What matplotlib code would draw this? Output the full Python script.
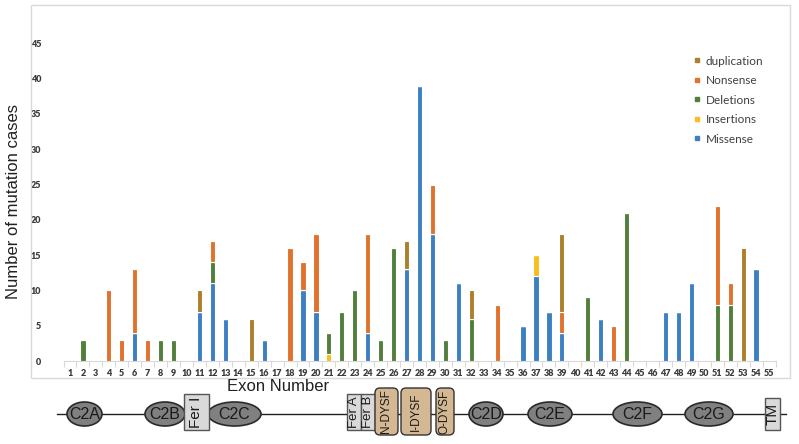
import matplotlib
matplotlib.use("Agg")
import matplotlib.pyplot as plt
from matplotlib.patches import Ellipse, Rectangle, FancyBboxPatch
from matplotlib.lines import Line2D
import numpy as np

exons = list(range(1, 56))
missense = [0,0,0,0,0,4,0,0,0,0, 7,11,6,0,0,3,0,0,10,7, 0,0,0,4,0,0,13,39,18,0,
            11,0,0,0,0,5,12,7,4,0, 0,6,0,0,0,0,7,7,11,0, 0,0,0,13,0]
insertions = [0]*55
insertions[20] = 1
insertions[36] = 3
deletions = [0]*55
for e, v in {2:3, 8:3, 9:3, 12:3, 21:3, 22:7, 23:10, 25:3, 26:16, 30:3, 32:6,
             41:9, 44:21, 51:8, 52:8}.items():
    deletions[e-1] = v
nonsense = [0]*55
for e, v in {4:10, 5:3, 6:9, 7:3, 12:3, 18:16, 19:4, 20:11, 24:14, 29:7, 34:8,
             39:3, 43:5, 51:14, 52:3}.items():
    nonsense[e-1] = v
duplication = [0]*55
for e, v in {11:3, 15:6, 27:4, 32:4, 39:11, 53:16}.items():
    duplication[e-1] = v

series_names = ["Missense", "Insertions", "Deletions", "Nonsense", "duplication"]
series_vals = [missense, insertions, deletions, nonsense, duplication]
colors = {"Missense": "#3d80c2", "Insertions": "#fbbd1c", "Deletions": "#527e3b",
          "Nonsense": "#e0722e", "duplication": "#ab7f2b"}
yticks = [0, 5, 10, 15, 20, 25, 30, 35, 40, 45]

W, H = 799, 444
fig = plt.figure(figsize=(W/100, H/100), dpi=100)

def fb(x0, y0, x1, y1):
    return [x0/W, 1 - y1/H, (x1-x0)/W, (y1-y0)/H]

ax = fig.add_axes(fb(63.5, 8, 775.5, 361))
x = np.array(exons)
bottom = np.zeros(55)
for name, vals in zip(series_names, series_vals):
    v = np.array(vals, dtype=float)
    ax.bar(x, v, width=0.4, bottom=bottom, color=colors[name],
           edgecolor="white", linewidth=0.8, zorder=3)
    bottom += v

ax.set_xlim(0.5, 55.5)
ax.set_ylim(0, 50)
ax.set_yticks(yticks)
ax.set_xticks(exons)
ax.set_xticks(np.arange(0.5, 56, 1), minor=True)
tickfont = dict(family=["Lato", "DejaVu Sans"], weight="heavy", size=6.5)
ax.set_xticklabels([str(e) for e in exons], **tickfont, color="#3a3a3a")
ax.set_yticklabels([str(t) for t in yticks], **tickfont, color="#3a3a3a")
ax.tick_params(axis="x", which="major", length=0, pad=6)
ax.tick_params(axis="x", which="minor", length=4, color="#d9d9d9", width=0.8)
ax.tick_params(axis="y", length=0, pad=16)
for s in ["left", "top", "right"]:
    ax.spines[s].set_visible(False)
ax.spines["bottom"].set_color("#d9d9d9")
ax.patch.set_alpha(0)

handles = [Line2D([], [], marker="s", linestyle="none", markersize=3.5,
                  color=colors[n]) for n in ["duplication", "Nonsense", "Deletions", "Insertions", "Missense"]]
leg = ax.legend(handles, ["duplication", "Nonsense", "Deletions", "Insertions", "Missense"],
                loc="upper left", bbox_to_anchor=(683/W, 1 - 45/H), bbox_transform=fig.transFigure,
                frameon=False, handlelength=0.6, handletextpad=0.4, labelspacing=0.72,
                prop=dict(family=["Lato", "DejaVu Sans"], size=8.5))
for t in leg.get_texts():
    t.set_color("#404040")

# overlay axes in pixel coords
dax = fig.add_axes([0, 0, 1, 1])
dax.set_xlim(0, W)
dax.set_ylim(H, 0)
dax.axis("off")
dax.patch.set_alpha(0)

dax.add_patch(Rectangle((31, 5), 759, 373, fill=False, edgecolor="#d9d9d9", linewidth=1))

sans = ["Liberation Sans", "DejaVu Sans"]
dax.text(14, 201, "Number of mutation cases", rotation=90, ha="center", va="center",
         fontsize=12, family=sans, color="#202020")
dax.text(278, 386, "Exon Number", ha="center", va="center", fontsize=12, family=sans,
         color="#202020")

# domain line
dax.plot([57, 786], [414, 414], color="#222222", linewidth=1, zorder=1)

ell_fc, ell_ec = "#808080", "#2a2a2a"
for lab, cx, w in [("C2A", 84.5, 35), ("C2B", 165, 40), ("C2C", 234.5, 53),
                   ("C2D", 486, 34), ("C2E", 550, 44), ("C2F", 637.5, 49), ("C2G", 709, 48)]:
    dax.add_patch(Ellipse((cx, 414), w, 24, facecolor=ell_fc, edgecolor=ell_ec, linewidth=1.2, zorder=2))
    dax.text(cx, 414.5, lab, ha="center", va="center", fontsize=11.5,
             family=["Liberation Sans Narrow", "Liberation Sans", "DejaVu Sans"], color="#1a1a1a", zorder=3)

box_fc, box_ec = "#d9d9d9", "#555555"
for lab, x0, x1, y0, y1, fs in [("Fer I", 184, 209, 394, 430, 11), ("Fer A", 347, 361, 394, 430, 9.5),
                                ("Fer B", 361, 375, 394, 430, 9.5), ("TM", 765, 780, 398, 430, 11)]:
    dax.add_patch(Rectangle((x0, y0), x1-x0, y1-y0, facecolor=box_fc, edgecolor=box_ec, linewidth=1, zorder=2))
    dax.text((x0+x1)/2, (y0+y1)/2, lab, rotation=90, ha="center", va="center", fontsize=fs,
             family=sans, color="#1a1a1a", zorder=3)

dys_fc, dys_ec = "#d4b793", "#333333"
for lab, x0, x1 in [("N-DYSF", 375, 398), ("I-DYSF", 401, 431), ("O-DYSF", 436, 454)]:
    dax.add_patch(FancyBboxPatch((x0, 388), x1-x0, 47, boxstyle="round,pad=0,rounding_size=5",
                                 facecolor=dys_fc, edgecolor=dys_ec, linewidth=1, zorder=2))
    dax.text((x0+x1)/2, 411.5, lab, rotation=90, ha="center", va="center", fontsize=8.5,
             family=sans, color="#1a1a1a", zorder=3)

fig.savefig("out.png", dpi=100)
